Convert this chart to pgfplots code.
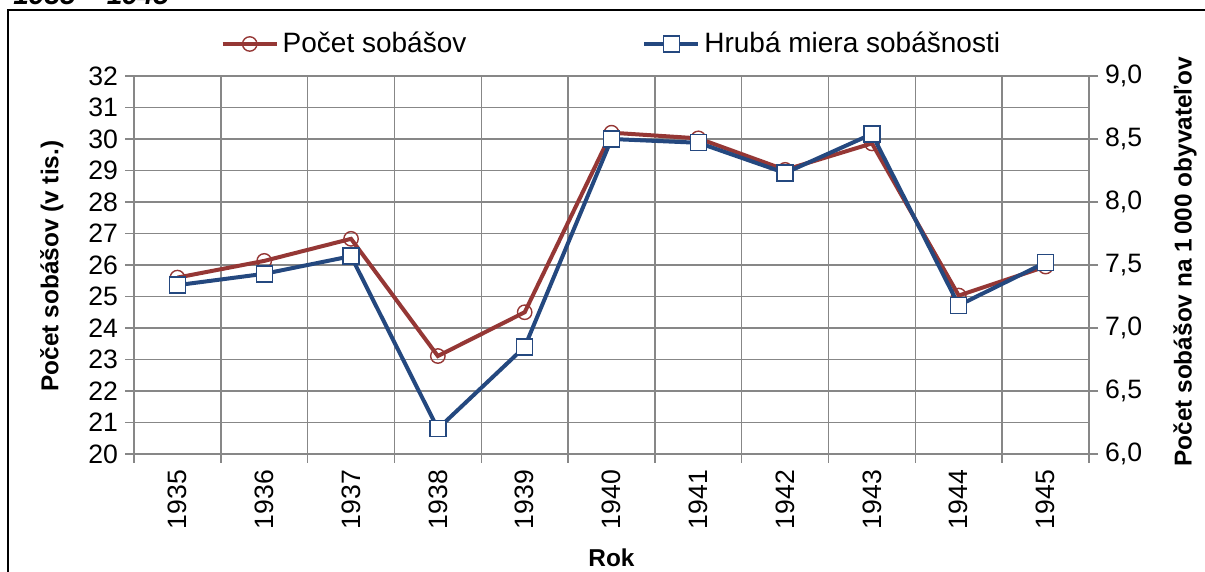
\documentclass[border=0pt]{standalone}
\usepackage{fontspec}
\setmainfont{Liberation Sans}
\usepackage{pgfplots}
\pgfplotsset{compat=1.18}
\definecolor{redS}{HTML}{953735}
\definecolor{blueS}{HTML}{24487F}
\definecolor{gridc}{HTML}{878787}
\begin{document}
\begin{tikzpicture}
\useasboundingbox (0pt,0pt) rectangle (602.5pt,286pt);
\draw[line width=0.75pt] (4pt,-10pt) -- (4pt,281pt) -- (612pt,281pt);
\node[anchor=base west, inner sep=0pt, font=\bfseries\itshape\fontsize{14}{16}\selectfont] at (6.5pt,283.5pt) {1935 – 1945};
\pgfplotsset{
  common/.style={
    at={(67pt,59pt)}, anchor=south west,
    width=477.5pt, height=189pt, scale only axis,
    xmin=-0.5, xmax=10.5,
    /pgf/number format/assume math mode=true,
    tick label style={font=\fontsize{13.3}{15}\selectfont},
    label style={font=\bfseries\fontsize{12.2}{14}\selectfont},
    axis line style={gridc, line width=0.75pt},
    major tick style={gridc, line width=0.75pt},
    major tick length=4.5pt,
    tick align=outside,
  }
}
\begin{axis}[common,
  ymin=20, ymax=32, ytick={20,21,...,32},
  xtick={-0.5,0.5,...,10.5}, xticklabels={},
  extra x ticks={0,1,...,10},
  extra x tick labels={1935,1936,1937,1938,1939,1940,1941,1942,1943,1944,1945},
  extra x tick style={grid=none, major tick style={draw=none},
     tick label style={rotate=90, anchor=east}},
  grid=major, major grid style={gridc, line width=0.75pt},
  tick pos=left,
  ylabel={Počet sobášov (v tis.)},
  ylabel style={at={(axis description cs:-0.086,0.497)}, anchor=center, rotate=0},
  xlabel={Rok},
  xlabel style={at={(axis description cs:0.5,-0.275)}, anchor=center},
  legend style={at={(axis description cs:0.0904,1.0847)}, anchor=west,
     draw=none, fill=none, inner sep=0pt,
     font=\fontsize{14}{16}\selectfont,
     /tikz/every even column/.append style={column sep=86pt}},
  legend columns=2,
  legend image code/.code={\draw[mark repeat=2,mark phase=2] plot coordinates {(0pt,0pt)(13.5pt,0pt)(27pt,0pt)};},
]
\addplot[redS, line width=2pt, mark=o, mark size=3.6pt,
  mark options={fill=white, line width=0.7pt, solid}]
  coordinates {(0,25.6)(1,26.13)(2,26.83)(3,23.11)(4,24.5)(5,30.2)(6,30.02)(7,29.02)(8,29.86)(9,25.03)(10,25.95)};
\addlegendentry{Počet sobášov}
\addlegendimage{blueS, line width=2pt, mark=square*, mark size=4pt,
  mark options={fill=white, line width=0.7pt, solid}}
\addlegendentry{Hrubá miera sobášnosti}
\end{axis}
\begin{axis}[common,
  ymin=6, ymax=9, ytick={6,6.5,...,9},
  axis y line*=right, axis x line=none,
  y tick label style={/pgf/number format/.cd, fixed, fixed zerofill, precision=1, use comma},
  ylabel={Počet sobášov na 1\,000 obyvateľov},
  ylabel style={at={(axis description cs:1.1005,0.508)}, anchor=center, rotate=0},
]
\addplot[blueS, line width=2pt, mark=square*, mark size=4pt,
  mark options={fill=white, line width=0.7pt, solid}]
  coordinates {(0,7.34)(1,7.43)(2,7.57)(3,6.20)(4,6.85)(5,8.50)(6,8.47)(7,8.23)(8,8.54)(9,7.18)(10,7.52)};
\end{axis}
\end{tikzpicture}
\end{document}
